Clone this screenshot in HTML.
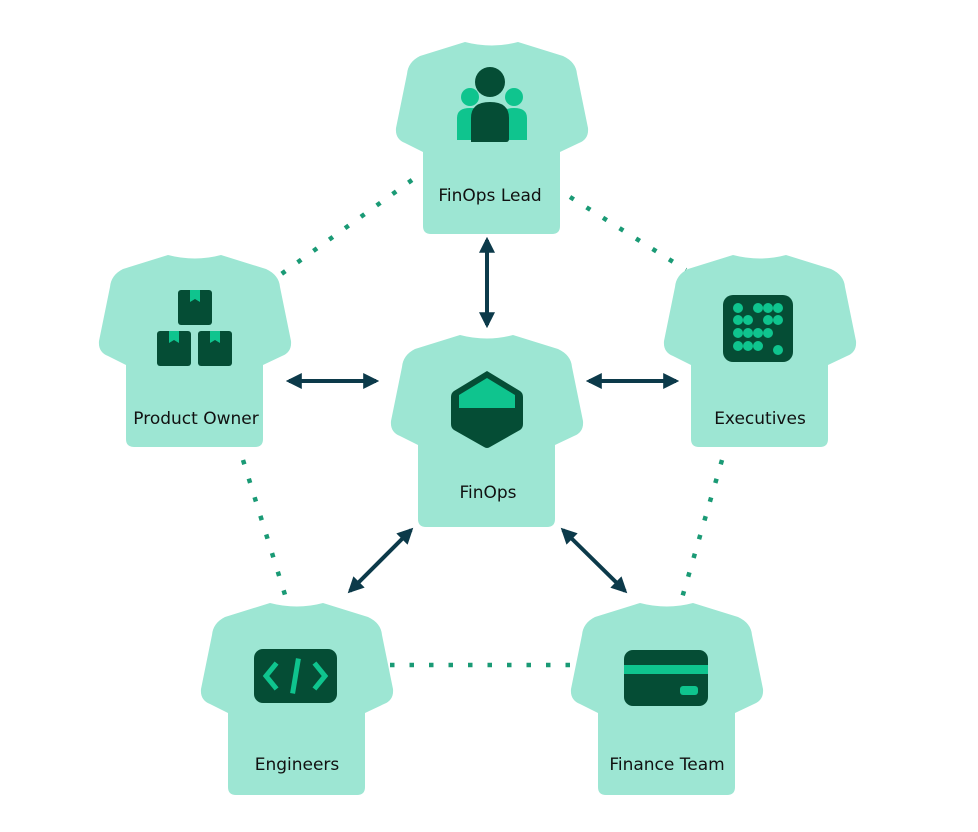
<!DOCTYPE html>
<html><head><meta charset="utf-8"><style>
html,body{margin:0;padding:0;background:#fff;}
svg{display:block}
text{font-family:"DejaVu Sans","Liberation Sans",sans-serif;font-size:17px;fill:#111;text-anchor:middle}
</style></head><body>
<svg width="978" height="832" viewBox="0 0 978 832" xmlns="http://www.w3.org/2000/svg">
<defs>
<path id="shirt" d="M70,0 Q97,7 123,0 L168,14 Q181,20 182,32 L193,86 Q194,97 184,101 L165,110 L165,184 Q165,192 157,192 L36,192 Q28,192 28,184 L28,110 L10,101 Q0,97 1,86 L12,32 Q13,20 25,14 Z" fill="#9de6d3"/>
<marker id="ah" viewBox="0 0 10 10" refX="8" refY="5" markerWidth="4" markerHeight="4" orient="auto-start-reverse"><path d="M0,0 L10,5 L0,10 z" fill="#0c3a4a"/></marker>
</defs>
<!-- dotted links -->
<g stroke="#1a9a75" stroke-width="4.5" stroke-dasharray="4.5 15" fill="none">
<line x1="412" y1="180" x2="280" y2="275"/>
<line x1="570" y1="197" x2="686" y2="270"/>
<line x1="243" y1="460" x2="286" y2="598"/>
<line x1="722" y1="460" x2="682" y2="598"/>
<line x1="390" y1="665" x2="575" y2="665"/>
</g>
<!-- shirts -->
<use href="#shirt" x="395" y="42"/>
<use href="#shirt" x="98" y="255"/>
<use href="#shirt" x="663" y="255"/>
<use href="#shirt" x="390" y="335"/>
<use href="#shirt" x="200" y="603"/>
<use href="#shirt" x="570" y="603"/>
<!-- arrows -->
<g stroke="#0c3a4a" stroke-width="4" marker-start="url(#ah)" marker-end="url(#ah)">
<line x1="487" y1="240" x2="487" y2="325"/>
<line x1="289" y1="381" x2="376" y2="381"/>
<line x1="589" y1="381" x2="676" y2="381"/>
<line x1="411" y1="530" x2="350" y2="591"/>
<line x1="563" y1="530" x2="625" y2="591"/>
</g>
<!-- people icon -->
<circle cx="470" cy="97" r="9" fill="#0fc48e"/>
<circle cx="514" cy="97" r="9" fill="#0fc48e"/>
<path d="M457,140 L457,118 Q457,108 470,108 Q483,108 483,118 L483,140 Z" fill="#0fc48e"/>
<path d="M501,140 L501,118 Q501,108 514,108 Q527,108 527,118 L527,140 Z" fill="#0fc48e"/>
<circle cx="490" cy="82" r="15" fill="#054d35"/>
<path d="M471,142 L471,118 Q471,102 490,102 Q509,102 509,118 L509,139 Q509,142 506,142 Z" fill="#054d35"/>
<!-- boxes icon -->
<g fill="#054d35">
<rect x="178" y="290" width="34" height="35" rx="3"/>
<rect x="157" y="331" width="34" height="35" rx="3"/>
<rect x="198" y="331" width="34" height="35" rx="3"/>
</g>
<g fill="#0fc48e">
<path d="M190,290 h10 v12 l-5,-3 l-5,3z"/>
<path d="M169,331 h10 v12 l-5,-3 l-5,3z"/>
<path d="M210,331 h10 v12 l-5,-3 l-5,3z"/>
</g>
<!-- executives grid -->
<rect x="723" y="295" width="70" height="67" rx="10" fill="#054d35"/>
<g fill="#0fc48e">
<circle cx="738" cy="308" r="5"/><circle cx="758" cy="308" r="5"/><circle cx="768" cy="308" r="5"/><circle cx="778" cy="308" r="5"/>
<circle cx="738" cy="320" r="5"/><circle cx="748" cy="320" r="5"/><circle cx="768" cy="320" r="5"/><circle cx="778" cy="320" r="5"/>
<circle cx="738" cy="333" r="5"/><circle cx="748" cy="333" r="5"/><circle cx="758" cy="333" r="5"/><circle cx="768" cy="333" r="5"/>
<circle cx="738" cy="346" r="5"/><circle cx="748" cy="346" r="5"/><circle cx="758" cy="346" r="5"/><circle cx="778" cy="350" r="5"/>
</g>
<!-- hexagon -->
<path d="M487,371 L520,391 Q523,393 523,397 L523,424 Q523,428 520,430 L490,447 Q487,449 484,447 L454,430 Q451,428 451,424 L451,397 Q451,393 454,391 Z" fill="#054d35"/>
<path d="M487,378 L515,395 L515,408 L459,408 L459,395 Z" fill="#0fc48e"/>
<!-- code icon -->
<rect x="254" y="649" width="83" height="54" rx="9" fill="#054d35"/>
<g stroke="#0fc48e" stroke-width="5" fill="none" stroke-linecap="square">
<polyline points="275,665 266,676 275,687"/>
<polyline points="316,665 325,676 316,687"/>
<line x1="298" y1="661" x2="293" y2="691"/>
</g>
<!-- card icon -->
<rect x="624" y="650" width="84" height="56" rx="9" fill="#054d35"/>
<rect x="624" y="665" width="84" height="9" fill="#0fc48e"/>
<rect x="680" y="686" width="18" height="9" rx="3" fill="#0fc48e"/>
<!-- labels -->
<text x="490" y="201">FinOps Lead</text>
<text x="196" y="424">Product Owner</text>
<text x="760" y="424">Executives</text>
<text x="488" y="498">FinOps</text>
<text x="297" y="770">Engineers</text>
<text x="667" y="770">Finance Team</text>
</svg>
</body></html>
